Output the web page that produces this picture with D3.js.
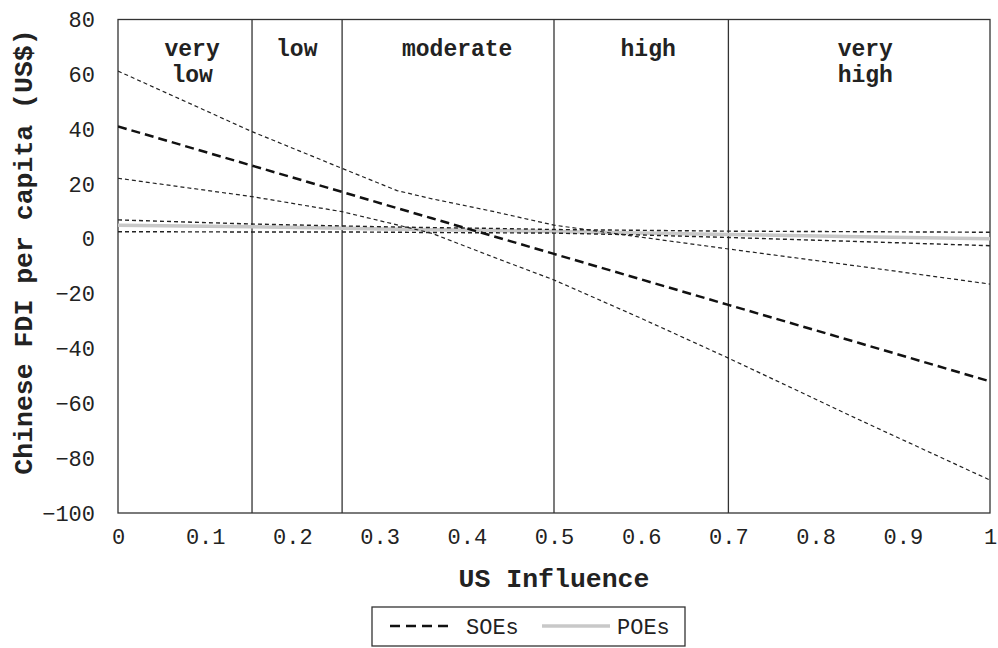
<!DOCTYPE html>
<meta charset="utf-8">
<script src="https://d3js.org/d3.v7.min.js"></script>
<style>
  body { margin: 0; background: #fff; }
  text { font-family: "Liberation Mono", "Courier New", monospace; fill: #222; }
</style>
<div id="viz"></div>
<script>

// values
var xs       = [0, 0.1537, 0.257, 0.32, 0.36, 0.43, 0.5, 0.6, 0.7, 0.85, 1];
var soeMean  = [41, 26.7, 17.1, 11.2, 7.5, 1.0, -5.5, -14.8, -24.1, -38, -52];
var soeUpper = [61.2, 39.1, 25.7, 17.6, 14.6, 10.0, 5.0, 0.6, -3.7, -10, -16.5];
var soeLower = [22.1, 15.4, 9.9, 5.1, 2.0, -6.6, -15.0, -29, -43.5, -66, -88];
var poeMean  = [5.0, 4.4, 3.9, 3.5, 3.3, 3.0, 2.7, 2.1, 1.6, 0.8, 0];
var poeUpper = [6.9, 5.4, 4.7, 4.3, 4.1, 3.8, 3.4, 3.1, 2.8, 2.6, 2.4];
var poeLower = [2.6, 2.5, 2.5, 2.4, 2.3, 2.2, 2.1, 1.4, 0.5, -1.0, -2.5];

var bounds = [0.1537, 0.257, 0.5, 0.7];
var regionLabels = [["very", "low"], ["low"], ["moderate"], ["high"], ["very", "high"]];
var regionX = [0.085, 0.205, 0.389, 0.608, 0.857];

var xTicks = [0, 0.1, 0.2, 0.3, 0.4, 0.5, 0.6, 0.7, 0.8, 0.9, 1];
var yTicks = [-100, -80, -60, -40, -20, 0, 20, 40, 60, 80];

var margin = {top: 19.5, right: 8, bottom: 135, left: 118},
    W = 998, H = 648,
    width = W - margin.left - margin.right,
    height = H - margin.top - margin.bottom;

var svg = d3.select("#viz").append("svg")
    .attr("width", W).attr("height", H);
var g = svg.append("g")
    .attr("transform", "translate(" + margin.left + "," + margin.top + ")");

var x = d3.scaleLinear().domain([0, 1]).range([0, width]);
var y = d3.scaleLinear().domain([-100, 80]).range([height, 0]);

// axes, no tick marks
var xAxis = g.append("g")
    .attr("transform", "translate(0," + height + ")")
    .call(d3.axisBottom(x).tickValues(xTicks).tickSize(0).tickPadding(15)
      .tickFormat(d => d === 0 || d === 1 ? d : d3.format(".1f")(d)));
var yAxis = g.append("g")
    .call(d3.axisLeft(y).tickValues(yTicks).tickSize(0).tickPadding(23)
      .tickFormat(d => d < 0 ? "\u2212" + Math.abs(d) : d));
[xAxis, yAxis].forEach(a => {
  a.select(".domain").remove();
  a.selectAll("text").style("font-family", "Liberation Mono").style("font-size", "22px").attr("fill", "#333");
});

// frame + region boundaries
g.append("rect")
    .attr("width", width).attr("height", height)
    .attr("fill", "none").attr("stroke", "#333").attr("stroke-width", 1.3);
g.selectAll(".bound").data(bounds).join("line")
    .attr("x1", d => x(d)).attr("x2", d => x(d))
    .attr("y1", 0).attr("y2", height)
    .attr("stroke", "#333").attr("stroke-width", 1.3);

// region labels
regionLabels.forEach(function (lines, i) {
  var t = g.append("text")
      .attr("x", x(regionX[i])).attr("y", 36)
      .attr("text-anchor", "middle")
      .style("font-size", "23px").style("font-weight", "bold");
  lines.forEach(function (s, j) {
    t.append("tspan").attr("x", x(regionX[i])).attr("dy", j ? 26 : 0).text(s);
  });
});

var line = d3.line().x((d, i) => x(xs[i])).y(d => y(d));

var clip = g.append("clipPath").attr("id", "clip").append("rect")
    .attr("width", width).attr("height", height);
var plot = g.append("g").attr("clip-path", "url(#clip)");

// POEs
plot.append("path").datum(poeMean).attr("d", line)
    .attr("fill", "none").attr("stroke", "#c8c8c8").attr("stroke-width", 3.5);
[poeUpper, poeLower].forEach(s => {
  plot.append("path").datum(s).attr("d", line)
      .attr("fill", "none").attr("stroke", "#222").attr("stroke-width", 1.4)
      .attr("stroke-dasharray", "4,3");
});

// SOEs
[soeUpper, soeLower].forEach(s => {
  plot.append("path").datum(s).attr("d", line)
      .attr("fill", "none").attr("stroke", "#222").attr("stroke-width", 1.2)
      .attr("stroke-dasharray", "4,3");
});
plot.append("path").datum(soeMean).attr("d", line)
    .attr("fill", "none").attr("stroke", "#111").attr("stroke-width", 2.5)
    .attr("stroke-dasharray", "9,5");

// axis titles
g.append("text")
    .attr("x", width / 2).attr("y", height + 74)
    .attr("text-anchor", "middle")
    .style("font-size", "26.5px").style("font-weight", "bold")
    .text("US Influence");
svg.append("text")
    .attr("transform", "translate(32,252) rotate(-90)")
    .attr("text-anchor", "middle")
    .style("font-size", "26.5px").style("font-weight", "bold")
    .text("Chinese FDI per capita (US$)");

// legend
var lg = svg.append("g").attr("transform", "translate(372,607)");
lg.append("rect").attr("width", 313).attr("height", 39)
    .attr("fill", "#fff").attr("stroke", "#333").attr("stroke-width", 1.3);
lg.append("line").attr("x1", 18).attr("x2", 80).attr("y1", 19).attr("y2", 19)
    .attr("stroke", "#111").attr("stroke-width", 2.5).attr("stroke-dasharray", "10,6");
lg.append("text").attr("x", 94).attr("y", 27).style("font-size", "22px").attr("fill", "#333").text("SOEs");
lg.append("line").attr("x1", 170).attr("x2", 238).attr("y1", 19).attr("y2", 19)
    .attr("stroke", "#c8c8c8").attr("stroke-width", 3.5);
lg.append("text").attr("x", 245).attr("y", 27).style("font-size", "22px").attr("fill", "#333").text("POEs");

</script>
